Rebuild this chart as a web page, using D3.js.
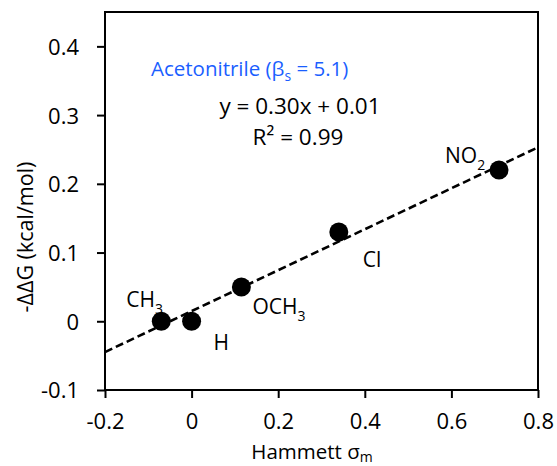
<!DOCTYPE html>
<html lang="en">
<head>
<meta charset="UTF-8">
<title>Hammett plot</title>
<style>
  body { margin: 0; background: #fff; }
  svg { display: block; }
  text { font-family: "Open Sans", sans-serif; fill: #000; }
  .tick text { font-size: 22px; }
</style>
</head>
<body>
<svg id="chart" width="557" height="466"></svg>
<script src="https://d3js.org/d3.v7.min.js"></script>
<script>
// substituents and their Hammett sigma_m / -ddG values
const substituents = ["CH3", "H", "OCH3", "Cl", "NO2"];
const sigmaM = [-0.07, 0, 0.115, 0.34, 0.71];
const negDDG = [0, 0, 0.05, 0.13, 0.22];
const xTicks = [-0.2, 0, 0.2, 0.4, 0.6, 0.8];
const yTicks = [-0.1, 0, 0.1, 0.2, 0.3, 0.4];

const svg = d3.select("#chart");
const plotL = 105, plotR = 538, plotT = 12, plotB = 390;

const x = d3.scaleLinear().domain([-0.2, 0.8]).range([plotL, plotR]);
const y = d3.scaleLinear().domain([-0.1, 0.45]).range([plotB, plotT]);

// least squares fit
const n = sigmaM.length;
const mx = d3.mean(sigmaM), my = d3.mean(negDDG);
let sxy = 0, sxx = 0;
for (let i = 0; i < n; i++) {
    sxy += (sigmaM[i] - mx) * (negDDG[i] - my);
    sxx += (sigmaM[i] - mx) ** 2;
}
const slope = sxy / sxx, intercept = my - slope * mx;

const fmt = d => d === 0 ? "0" : d.toFixed(1);

// frame
svg.append("rect")
    .attr("x", plotL).attr("y", plotT)
    .attr("width", plotR - plotL).attr("height", plotB - plotT)
    .attr("fill", "none").attr("stroke", "#000").attr("stroke-width", 2);

const xAxis = svg.append("g")
    .attr("transform", `translate(0,${plotB})`)
    .call(d3.axisBottom(x).tickValues(xTicks).tickSize(8).tickFormat(fmt));
xAxis.selectAll(".tick text").attr("y", 39).attr("dy", 0);

const yAxis = svg.append("g")
    .attr("transform", `translate(${plotL},0)`)
    .call(d3.axisLeft(y).tickValues(yTicks).tickSize(8).tickPadding(18).tickFormat(fmt));
yAxis.selectAll(".tick text").attr("dy", "0.36em");

[xAxis, yAxis].forEach(a => {
    a.select(".domain").remove();
    a.selectAll(".tick line").attr("stroke", "#000").attr("stroke-width", 2);
    a.selectAll(".tick text").attr("fill", "#000");
});

// trend line
const x0 = -0.2, x1 = 0.8;
svg.append("line")
    .attr("x1", x(x0)).attr("y1", y(slope * x0 + intercept))
    .attr("x2", x(x1)).attr("y2", y(slope * x1 + intercept))
    .attr("stroke", "#000").attr("stroke-width", 2.6)
    .attr("stroke-dasharray", "8,4");

// points
svg.append("g").selectAll("circle")
    .data(sigmaM)
    .enter().append("circle")
    .attr("cx", d => x(d))
    .attr("cy", (d, i) => y(negDDG[i]))
    .attr("r", 9.5)
    .attr("fill", "#000");

// point labels: offsets in px relative to the point
const labelOffsets = [[-35, -14], [22, 29], [11, 27], [24, 35], [-54, -7]];
const labelG = svg.append("g");
substituents.forEach((s, i) => {
    const t = labelG.append("text")
        .attr("x", x(sigmaM[i]) + labelOffsets[i][0])
        .attr("y", y(negDDG[i]) + labelOffsets[i][1])
        .attr("font-size", 21);
    const m = s.match(/^([A-Za-z]+?)(\d?)$/);
    t.append("tspan").text(m[1]);
    if (m[2]) t.append("tspan").attr("font-size", 14).attr("dy", 7).text(m[2]);
});

// annotations
const ann = svg.append("text").attr("x", 151).attr("y", 76)
    .attr("font-size", 20.5).style("fill", "#1a5eff");
ann.append("tspan").text("Acetonitrile (β");
ann.append("tspan").attr("font-size", 14).attr("dy", 5).text("s");
ann.append("tspan").attr("dy", -5).text(" = 5.1)");

svg.append("text").attr("x", 300).attr("y", 114)
    .attr("text-anchor", "middle").attr("font-size", 22.5)
    .text(`y = ${slope.toFixed(2)}x + ${intercept.toFixed(2)}`);
svg.append("text").attr("x", 298).attr("y", 145)
    .attr("text-anchor", "middle").attr("font-size", 22.5)
    .text("R² = 0.99");

// axis titles
const xt = svg.append("text").attr("x", 312).attr("y", 459)
    .attr("text-anchor", "middle").attr("font-size", 20.5);
xt.append("tspan").text("Hammett  σ");
xt.append("tspan").attr("font-size", 14).attr("dy", 3).text("m");

svg.append("text")
    .attr("transform", "translate(33,237) rotate(-90)")
    .attr("text-anchor", "middle").attr("font-size", 21.5)
    .text("-ΔΔG (kcal/mol)");
</script>
</body>
</html>
